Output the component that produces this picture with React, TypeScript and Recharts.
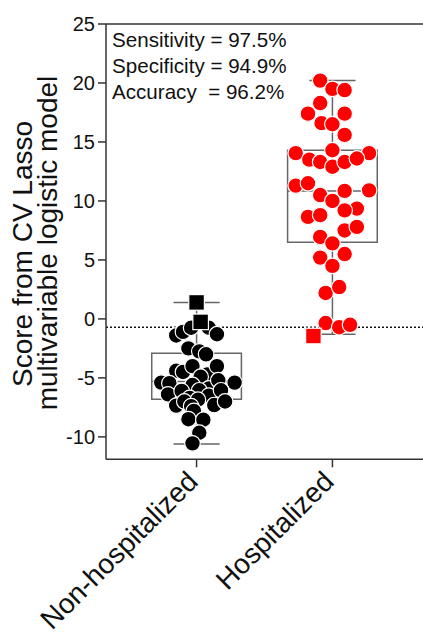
import { ComposedChart, ReferenceArea, ReferenceLine, Scatter, XAxis, YAxis } from "recharts";

const groups = ["Non-hospitalized", "Hospitalized"];
const yTicks = [-10, -5, 0, 5, 10, 15, 20, 25];
const cutoff = -0.7;

// box stats per group: min, q1, median, q3, max
const boxMin = [-10.6, -1.3];
const boxQ1 = [-6.8, 6.5];
const boxMedian = [-5.3, 10.85];
const boxQ3 = [-2.9, 14.3];
const boxMax = [1.4, 20.2];

// non-hospitalized, correctly classified (circles)
const nonHospScores = [
  -1.4, -1.1, -0.75, -0.75, -1.3,
  -2.5, -2.75, -3.0,
  -4.4, -4.5, -4.0, -4.7, -4.0, -4.9,
  -5.4, -5.45, -5.6, -5.9, -5.2, -5.4,
  -6.4, -6.1, -6.05, -6.5, -6.05, -6.7,
  -7.35, -7.0, -6.85, -7.3, -7.0, -7.4,
  -7.8, -8.5, -8.55, -9.65, -10.55,
];
const nonHospJitter = [
  -0.15, -0.1, -0.04, 0.09, 0.15,
  -0.06, 0.02, 0.07,
  -0.15, -0.1, -0.03, 0.08, 0.15, 0.03,
  -0.26, -0.2, -0.03, 0.09, 0.16, 0.28,
  -0.21, -0.11, 0.02, 0.09, 0.18, -0.05,
  -0.15, -0.09, 0.01, 0.13, 0.21, -0.04,
  -0.02, -0.06, 0.05, 0.02, -0.03,
];
// non-hospitalized, misclassified (squares)
const nonHospMissScores = [1.4, -0.25];
const nonHospMissJitter = [0, 0.03];

// hospitalized, correctly classified (circles)
const hospScores = [
  20.2, 19.5, 19.4, 18.3, 17.4, 17.4, 16.6, 16.5, 15.6,
  14.05, 14.3, 14.05, 13.5, 13.3, 12.9, 13.3, 13.6,
  11.3, 11.5, 10.5, 10.0, 10.85, 10.9, 9.35, 9.2,
  8.65, 8.8, 7.5, 7.8, 6.95, 6.4, 5.2, 5.5, 4.5,
  2.2, 2.7, -0.35, -0.7, -0.5,
];
const hospJitter = [
  -0.09, 0, 0.09, -0.09, -0.18, 0.09, -0.08, 0, 0.09,
  -0.27, 0, 0.27, -0.17, -0.09, 0, 0.09, 0.18,
  -0.27, -0.18, -0.09, 0, 0.09, 0.27, 0.18, 0.09,
  -0.18, -0.09, 0.09, 0.18, -0.09, 0, -0.09, 0.09, 0,
  -0.05, 0.05, -0.05, 0.05, 0.13,
];
const hospMissScores = [-1.45];
const hospMissJitter = [-0.14];

const toPoints = (scores: number[], jitter: number[], group: number) =>
  scores.map((y, i) => ({ x: group + 1 + jitter[i], y }));

const font = "'Liberation Sans', Arial, Helvetica, sans-serif";
const boxColor = "#666";
const axisColor = "#333";
const red = "#ff0000";

const circle = (fill: string) => (p: any) =>
  <circle cx={p.cx} cy={p.cy} r={7.8} fill={fill} stroke="#fff" strokeWidth={1.2} />;
const square = (fill: string) => (p: any) =>
  <rect x={p.cx - 7.8} y={p.cy - 7.8} width={15.6} height={15.6} fill={fill} stroke="#fff" strokeWidth={1.2} />;

const GroupTick = ({ x, y, payload }: any) => {
  const ax = x + 3;
  const ay = y + 16;
  return (
    <text x={ax} y={ay} transform={`rotate(-45 ${ax} ${ay})`} textAnchor="end" fontSize={28} fill="#111" fontFamily={font}>
      {groups[payload.value - 1]}
    </text>
  );
};

export default function App() {
  return (
    <div style={{ position: "absolute", left: 0, top: 0, width: 423, height: 636, background: "#fff" }}>
      <ComposedChart width={423} height={636} margin={{ top: 24, right: 0, left: 0, bottom: 0 }}>
        <XAxis
          type="number"
          dataKey="x"
          domain={[1 / 3, 8 / 3]}
          ticks={[1, 2]}
          allowDataOverflow
          height={176.7}
          tickSize={8}
          tickMargin={0}
          axisLine={{ stroke: axisColor, strokeWidth: 1.5 }}
          tickLine={{ stroke: axisColor, strokeWidth: 1.5 }}
          tick={<GroupTick />}
        />
        <YAxis
          type="number"
          dataKey="y"
          domain={[-11.9, 25]}
          ticks={yTicks}
          allowDataOverflow
          width={106}
          tickSize={8}
          tickMargin={3}
          axisLine={{ stroke: axisColor, strokeWidth: 1.5 }}
          tickLine={{ stroke: axisColor, strokeWidth: 1.5 }}
          tick={{ fill: "#111", fontSize: 20, fontFamily: font }}
        />
        <ReferenceLine y={25} stroke={axisColor} strokeWidth={1.5} />
        {groups.map((g, i) => (
          <ReferenceArea
            key={`box-${g}`}
            x1={i + 1 - 0.33}
            x2={i + 1 + 0.33}
            y1={boxQ1[i]}
            y2={boxQ3[i]}
            fill="none"
            fillOpacity={0}
            stroke={boxColor}
            strokeWidth={1.5}
          />
        ))}
        {groups.map((g, i) => [
          <ReferenceLine key={`med-${g}`} segment={[{ x: i + 1 - 0.33, y: boxMedian[i] }, { x: i + 1 + 0.33, y: boxMedian[i] }]} stroke={boxColor} strokeWidth={1.5} />,
          <ReferenceLine key={`wt-${g}`} segment={[{ x: i + 1, y: boxQ3[i] }, { x: i + 1, y: boxMax[i] }]} stroke={boxColor} strokeWidth={1.5} />,
          <ReferenceLine key={`wb-${g}`} segment={[{ x: i + 1, y: boxQ1[i] }, { x: i + 1, y: boxMin[i] }]} stroke={boxColor} strokeWidth={1.5} />,
          <ReferenceLine key={`ct-${g}`} segment={[{ x: i + 1 - 0.17, y: boxMax[i] }, { x: i + 1 + 0.17, y: boxMax[i] }]} stroke={boxColor} strokeWidth={1.5} />,
          <ReferenceLine key={`cb-${g}`} segment={[{ x: i + 1 - 0.17, y: boxMin[i] }, { x: i + 1 + 0.17, y: boxMin[i] }]} stroke={boxColor} strokeWidth={1.5} />,
        ])}
        <ReferenceLine y={cutoff} stroke="#111" strokeWidth={1.6} strokeDasharray="2 2" />
        <Scatter data={toPoints(nonHospScores, nonHospJitter, 0)} shape={circle("#000")} isAnimationActive={false} />
        <Scatter data={toPoints(hospScores, hospJitter, 1)} shape={circle(red)} isAnimationActive={false} />
        <Scatter data={toPoints(nonHospMissScores, nonHospMissJitter, 0)} shape={square("#000")} isAnimationActive={false} />
        <Scatter data={toPoints(hospMissScores, hospMissJitter, 1)} shape={square(red)} isAnimationActive={false} />
      </ComposedChart>
      <svg width={423} height={636} style={{ position: "absolute", left: 0, top: 0, pointerEvents: "none" }}>
        <g fontFamily={font} fill="#111">
          <text x={112} y={47} fontSize={20.6}>Sensitivity = 97.5%</text>
          <text x={112} y={73} fontSize={20.6}>Specificity = 94.9%</text>
          <text x={112} y={99} fontSize={20.6} style={{ whiteSpace: "pre" }}>Accuracy  = 96.2%</text>
          <text transform="translate(32 254) rotate(-90)" textAnchor="middle" fontSize={28}>Score from CV Lasso</text>
          <text transform="translate(57 243) rotate(-90)" textAnchor="middle" fontSize={28}>multivariable logistic model</text>
        </g>
      </svg>
    </div>
  );
}
